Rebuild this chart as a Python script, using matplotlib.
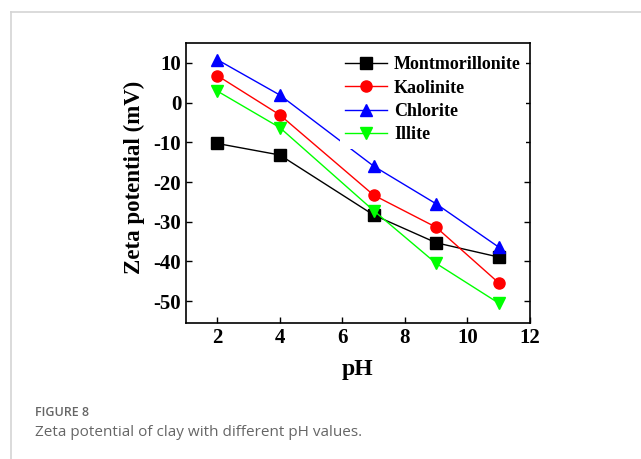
import matplotlib.pyplot as plt
from matplotlib.lines import Line2D

# pH values and measured zeta potentials (mV)
ph = [2, 4, 7, 9, 11]
montmorillonite = [-10.3, -13.2, -28.3, -35.3, -38.9]
kaolinite = [6.8, -3.1, -23.3, -31.4, -45.4]
chlorite = [10.8, 1.9, -16.0, -25.5, -36.4]
illite = [2.9, -6.3, -27.2, -40.5, -50.5]

series = [
    ("Montmorillonite", montmorillonite, "black", "s"),
    ("Kaolinite", kaolinite, "red", "o"),
    ("Chlorite", chlorite, "blue", "^"),
    ("Illite", illite, "#00ff00", "v"),
]

plt.rcParams["font.family"] = "Liberation Serif"
plt.rcParams["font.weight"] = "bold"
plt.rcParams["axes.unicode_minus"] = False

fig = plt.figure(figsize=(6.41, 4.59), dpi=100)

# card border (top and left rule)
fig.add_artist(Line2D([11 / 641, 1], [1 - 12 / 459, 1 - 12 / 459], color="#d4d4d4", lw=1.2))
fig.add_artist(Line2D([11 / 641, 11 / 641], [0, 1 - 12 / 459], color="#d4d4d4", lw=1.2))

ax = fig.add_axes([186 / 641, 1 - 323 / 459, (530 - 186) / 641, (323 - 43) / 459])

for name, vals, col, mk in series:
    ax.plot(ph, vals, color=col, marker=mk, markersize=8, lw=1, label=name, zorder=2)

ax.set_xlim(1, 12)
ax.set_ylim(-55.5, 15)
ax.set_xticks([2, 4, 6, 8, 10, 12])
ax.set_yticks([10, 0, -10, -20, -30, -40, -50])
ax.tick_params(direction="in", length=4, width=1, labelsize=15, right=True, top=False)
for sp in ax.spines.values():
    sp.set_linewidth(1.2)

ax.set_xlabel("pH", fontsize=17, fontweight="bold", labelpad=8)
ax.set_ylabel("Zeta potential (mV)", fontsize=16.5, fontweight="bold")
ax.yaxis.set_label_coords(-0.12, 0.52)

leg = ax.legend(loc="upper right", bbox_to_anchor=(1.0, 0.985), fontsize=13, frameon=True,
                framealpha=1, edgecolor="none", handlelength=2.3, handletextpad=0.4,
                labelspacing=0.35, borderpad=0.3, borderaxespad=0.2)
leg.set_zorder(5)
for t in leg.get_texts():
    t.set_fontweight("bold")

fig.text(35 / 641, 1 - 413 / 459, "FIGURE 8", fontsize=9, color="#666666",
         family="Open Sans", fontweight="semibold", va="center")
fig.text(35 / 641, 1 - 432 / 459, "Zeta potential of clay with different pH values.",
         fontsize=11, color="#666666", family="Open Sans", fontweight="normal", va="center")

fig.savefig("out.png", dpi=100)
